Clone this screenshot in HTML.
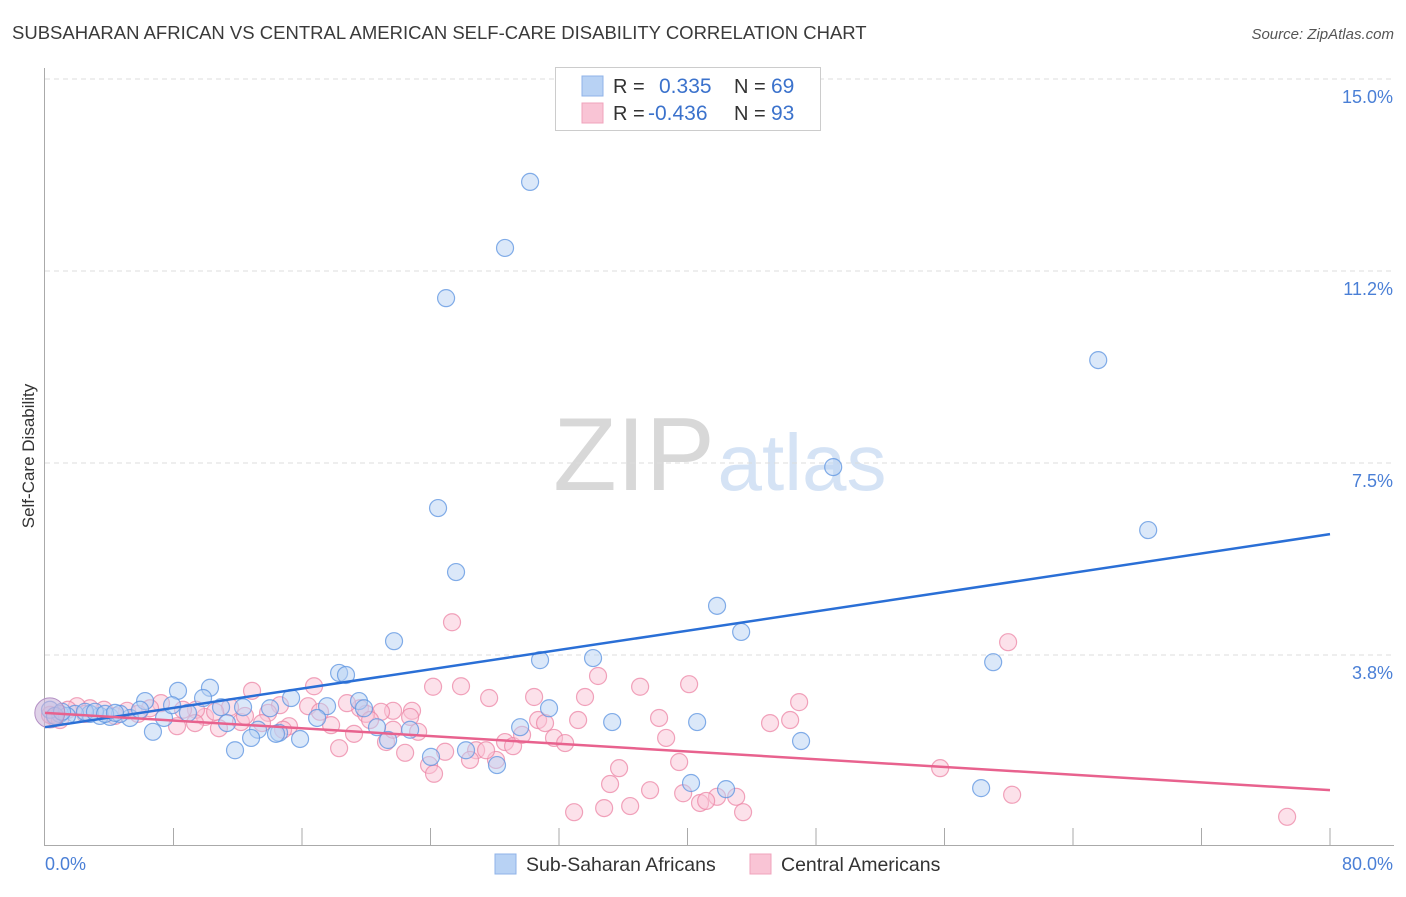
<!DOCTYPE html>
<html><head><meta charset="utf-8"><style>
body{margin:0;background:#fff;font-family:"Liberation Sans",sans-serif;}
svg text{font-family:"Liberation Sans",sans-serif;}
</style></head><body>
<svg id="chart" width="1406" height="892" viewBox="0 0 1406 892" xmlns="http://www.w3.org/2000/svg">
<text x="12" y="39" font-size="18.5" fill="#3a3a3a">SUBSAHARAN AFRICAN VS CENTRAL AMERICAN SELF-CARE DISABILITY CORRELATION CHART</text>
<text x="1394" y="39" font-size="15" fill="#555" text-anchor="end" font-style="italic">Source: ZipAtlas.com</text>
<text transform="translate(34,456) rotate(-90)" font-size="17" fill="#333" text-anchor="middle">Self-Care Disability</text>
<g>
<text x="634" y="490" font-size="104" fill="#d8d8d8" text-anchor="middle" font-family="Liberation Serif">ZIP</text>
<text x="802" y="490" font-size="80" fill="#d5e3f5" text-anchor="middle">atlas</text>
</g>
<g id="grid"></g>
<g id="axes"></g>
<g id="marks"></g>
<g>
<rect x="555.5" y="67.5" width="265" height="63" fill="#fff" stroke="#ccc"/>
<rect x="582" y="76" width="21" height="20" fill="#b8d2f4" stroke="#8fb3e8"/>
<rect x="582" y="103" width="21" height="20" fill="#f9c4d5" stroke="#f0a3bc"/>
<text x="613" y="93" font-size="20" fill="#333">R =</text>
<text x="659" y="93" font-size="21" fill="#3b72cc">0.335</text>
<text x="734" y="93" font-size="20" fill="#333">N =</text>
<text x="771" y="93" font-size="21" fill="#3b72cc">69</text>
<text x="613" y="120" font-size="20" fill="#333">R =</text>
<text x="648" y="120" font-size="21" fill="#3b72cc">-0.436</text>
<text x="734" y="120" font-size="20" fill="#333">N =</text>
<text x="771" y="120" font-size="21" fill="#3b72cc">93</text>
</g>
<g>
<rect x="495" y="854" width="21" height="20" fill="#b8d2f4" stroke="#8fb3e8"/>
<text x="526" y="871" font-size="19.5" fill="#333">Sub-Saharan Africans</text>
<rect x="750" y="854" width="21" height="20" fill="#f9c4d5" stroke="#f0a3bc"/>
<text x="781" y="871" font-size="19.5" fill="#333">Central Americans</text>
</g>
</svg>
<script>
const yTicks=[15.0,11.25,7.5,3.75];
const yTickLabels=["15.0%","11.2%","7.5%","3.8%"];
const xTickLabels=["0.0%","80.0%"];
const blueX=[30.2,28.64,24.97,65.57,49.07,68.68,24.47,25.59,41.84,43.34,21.73,59.03,34.12,30.82,18.31,18.74,31.38,8.28,10.27,9.84,6.23,15.32,19.55,17.56,14.01,12.33,10.96,8.9,7.41,5.29,4.05,3.42,2.8,1.87,0.93,0.31,4.67,16.94,19.86,11.33,13.26,14.57,20.67,22.73,29.58,35.31,40.6,6.72,12.83,14.38,15.88,21.36,11.83,24.03,26.21,28.14,47.07,40.22,42.4,58.28,5.92,7.91,2.49,1.37,0.62,1.06,3.11,3.74,4.36];
const blueY=[12.99,11.7,10.72,9.51,7.42,6.19,6.62,5.37,4.71,4.2,4.02,3.61,3.69,3.65,3.4,3.36,2.71,3.05,3.11,2.91,2.85,2.91,2.85,2.75,2.71,2.73,2.73,2.62,2.52,2.52,2.54,2.56,2.6,2.6,2.6,2.68,2.6,2.52,2.71,2.42,2.29,2.23,2.34,2.29,2.34,2.44,2.44,2.25,2.13,2.21,2.11,2.09,1.89,1.76,1.89,1.6,2.07,1.25,1.13,1.15,2.68,2.77,2.64,2.56,2.56,2.64,2.64,2.6,2.62];
const pinkX=[25.34,59.96,34.43,25.9,24.16,37.05,40.1,12.89,16.75,27.65,30.45,33.62,46.95,22.85,21.67,19.61,18.8,20.92,16.38,14.63,13.89,11.52,9.96,9.4,7.22,6.54,5.11,3.67,2.8,1.99,1.43,0.62,0.31,0.93,2.49,4.36,5.79,8.22,9.34,10.83,12.2,13.51,15.19,17.81,19.99,22.73,30.7,31.13,33.19,38.23,45.14,46.39,18.31,19.24,21.23,22.42,23.23,23.91,24.22,24.91,26.84,28.64,29.14,29.7,31.69,32.38,38.67,39.48,35.74,35.18,37.67,32.94,34.81,36.43,39.73,40.78,41.84,41.16,43.03,43.46,55.73,60.21,77.33,8.59,10.59,12.45,14.82,17.12,20.24,21.67,26.46,28.08,27.46];
const pinkY=[4.39,4.0,3.34,3.14,3.13,3.13,3.18,3.05,3.14,2.91,2.93,2.93,2.83,2.66,2.66,2.71,2.81,2.64,2.75,2.77,2.62,2.73,2.54,2.68,2.81,2.71,2.66,2.68,2.71,2.75,2.68,2.52,2.58,2.48,2.6,2.56,2.6,2.36,2.42,2.32,2.44,2.42,2.36,2.38,2.6,2.54,2.48,2.42,2.48,2.52,2.42,2.48,1.93,2.21,2.05,1.84,2.25,1.6,1.43,1.86,1.89,2.05,1.97,2.19,2.13,2.03,2.13,1.66,1.54,1.23,1.11,0.68,0.76,0.8,1.05,0.86,0.98,0.9,0.98,0.68,1.54,1.02,0.59,2.68,2.64,2.56,2.29,2.64,2.48,2.29,1.7,1.7,1.89];
const blueLine=[2.34,6.11];
const pinkLine=[2.62,1.11];
const X0=45,X1=1330,XMAX=80;
const xs=v=>X0+v*(X1-X0)/XMAX;
const ys=v=>847-v*51.2;
const NS="http://www.w3.org/2000/svg";
function mk(tag,attrs,parent){const e=document.createElementNS(NS,tag);for(const k in attrs)e.setAttribute(k,attrs[k]);parent.appendChild(e);return e;}
const grid=document.getElementById('grid'),axes=document.getElementById('axes'),marks=document.getElementById('marks');
yTicks.forEach((t,i)=>{
 const l=mk('line',{x1:45,x2:1394,y1:ys(t),y2:ys(t),stroke:'#dcdcdc','stroke-dasharray':'5,4'},grid);
 
 
 const tx=mk('text',{x:1393,y:ys(t)+24,'font-size':18,fill:'#4a7fd6','text-anchor':'end'},axes);
 tx.textContent=yTickLabels[i];
 
 
});
const ya=mk('line',{x1:44.5,x2:44.5,y1:68,y2:846,stroke:'#aaa'},axes);


const xa=mk('line',{x1:44,x2:1394,y1:845.5,y2:845.5,stroke:'#aaa'},axes);


for(let k=1;k<=10;k++){const t=mk('line',{x1:xs(k*8),x2:xs(k*8),y1:828,y2:845,stroke:'#aaa'},axes);
 
 }
const xl0=mk('text',{x:45,y:870,'font-size':18,fill:'#4a7fd6'},axes);xl0.textContent=xTickLabels[0];


const xl1=mk('text',{x:1393,y:870,'font-size':18,fill:'#4a7fd6','text-anchor':'end'},axes);xl1.textContent=xTickLabels[1];


function pts(X,Y,fill,stroke,name){X.forEach((x,i)=>{const c=mk('circle',{cx:xs(x),cy:ys(Y[i]),r:8.5,fill:fill,'fill-opacity':0.5,stroke:stroke,'stroke-width':1.2,'stroke-opacity':0.75},marks);
 
 });}
pts(pinkX,pinkY,'#f9c4d5','#ec86a6','point-central-american');
pts(blueX,blueY,'#b8d2f4','#5b93e0','point-subsaharan');
const bb=mk('circle',{cx:xs(0.3),cy:ys(2.62),r:15,fill:'#c9b4d8','fill-opacity':0.6,stroke:'#b38fc4'},marks);


const bl=mk('line',{x1:xs(0),y1:ys(blueLine[0]),x2:xs(80),y2:ys(blueLine[1]),stroke:'#2a6fd6','stroke-width':2.5},marks);


const pl=mk('line',{x1:xs(0),y1:ys(pinkLine[0]),x2:xs(80),y2:ys(pinkLine[1]),stroke:'#e8628e','stroke-width':2.5},marks);


</script>
</body></html>
